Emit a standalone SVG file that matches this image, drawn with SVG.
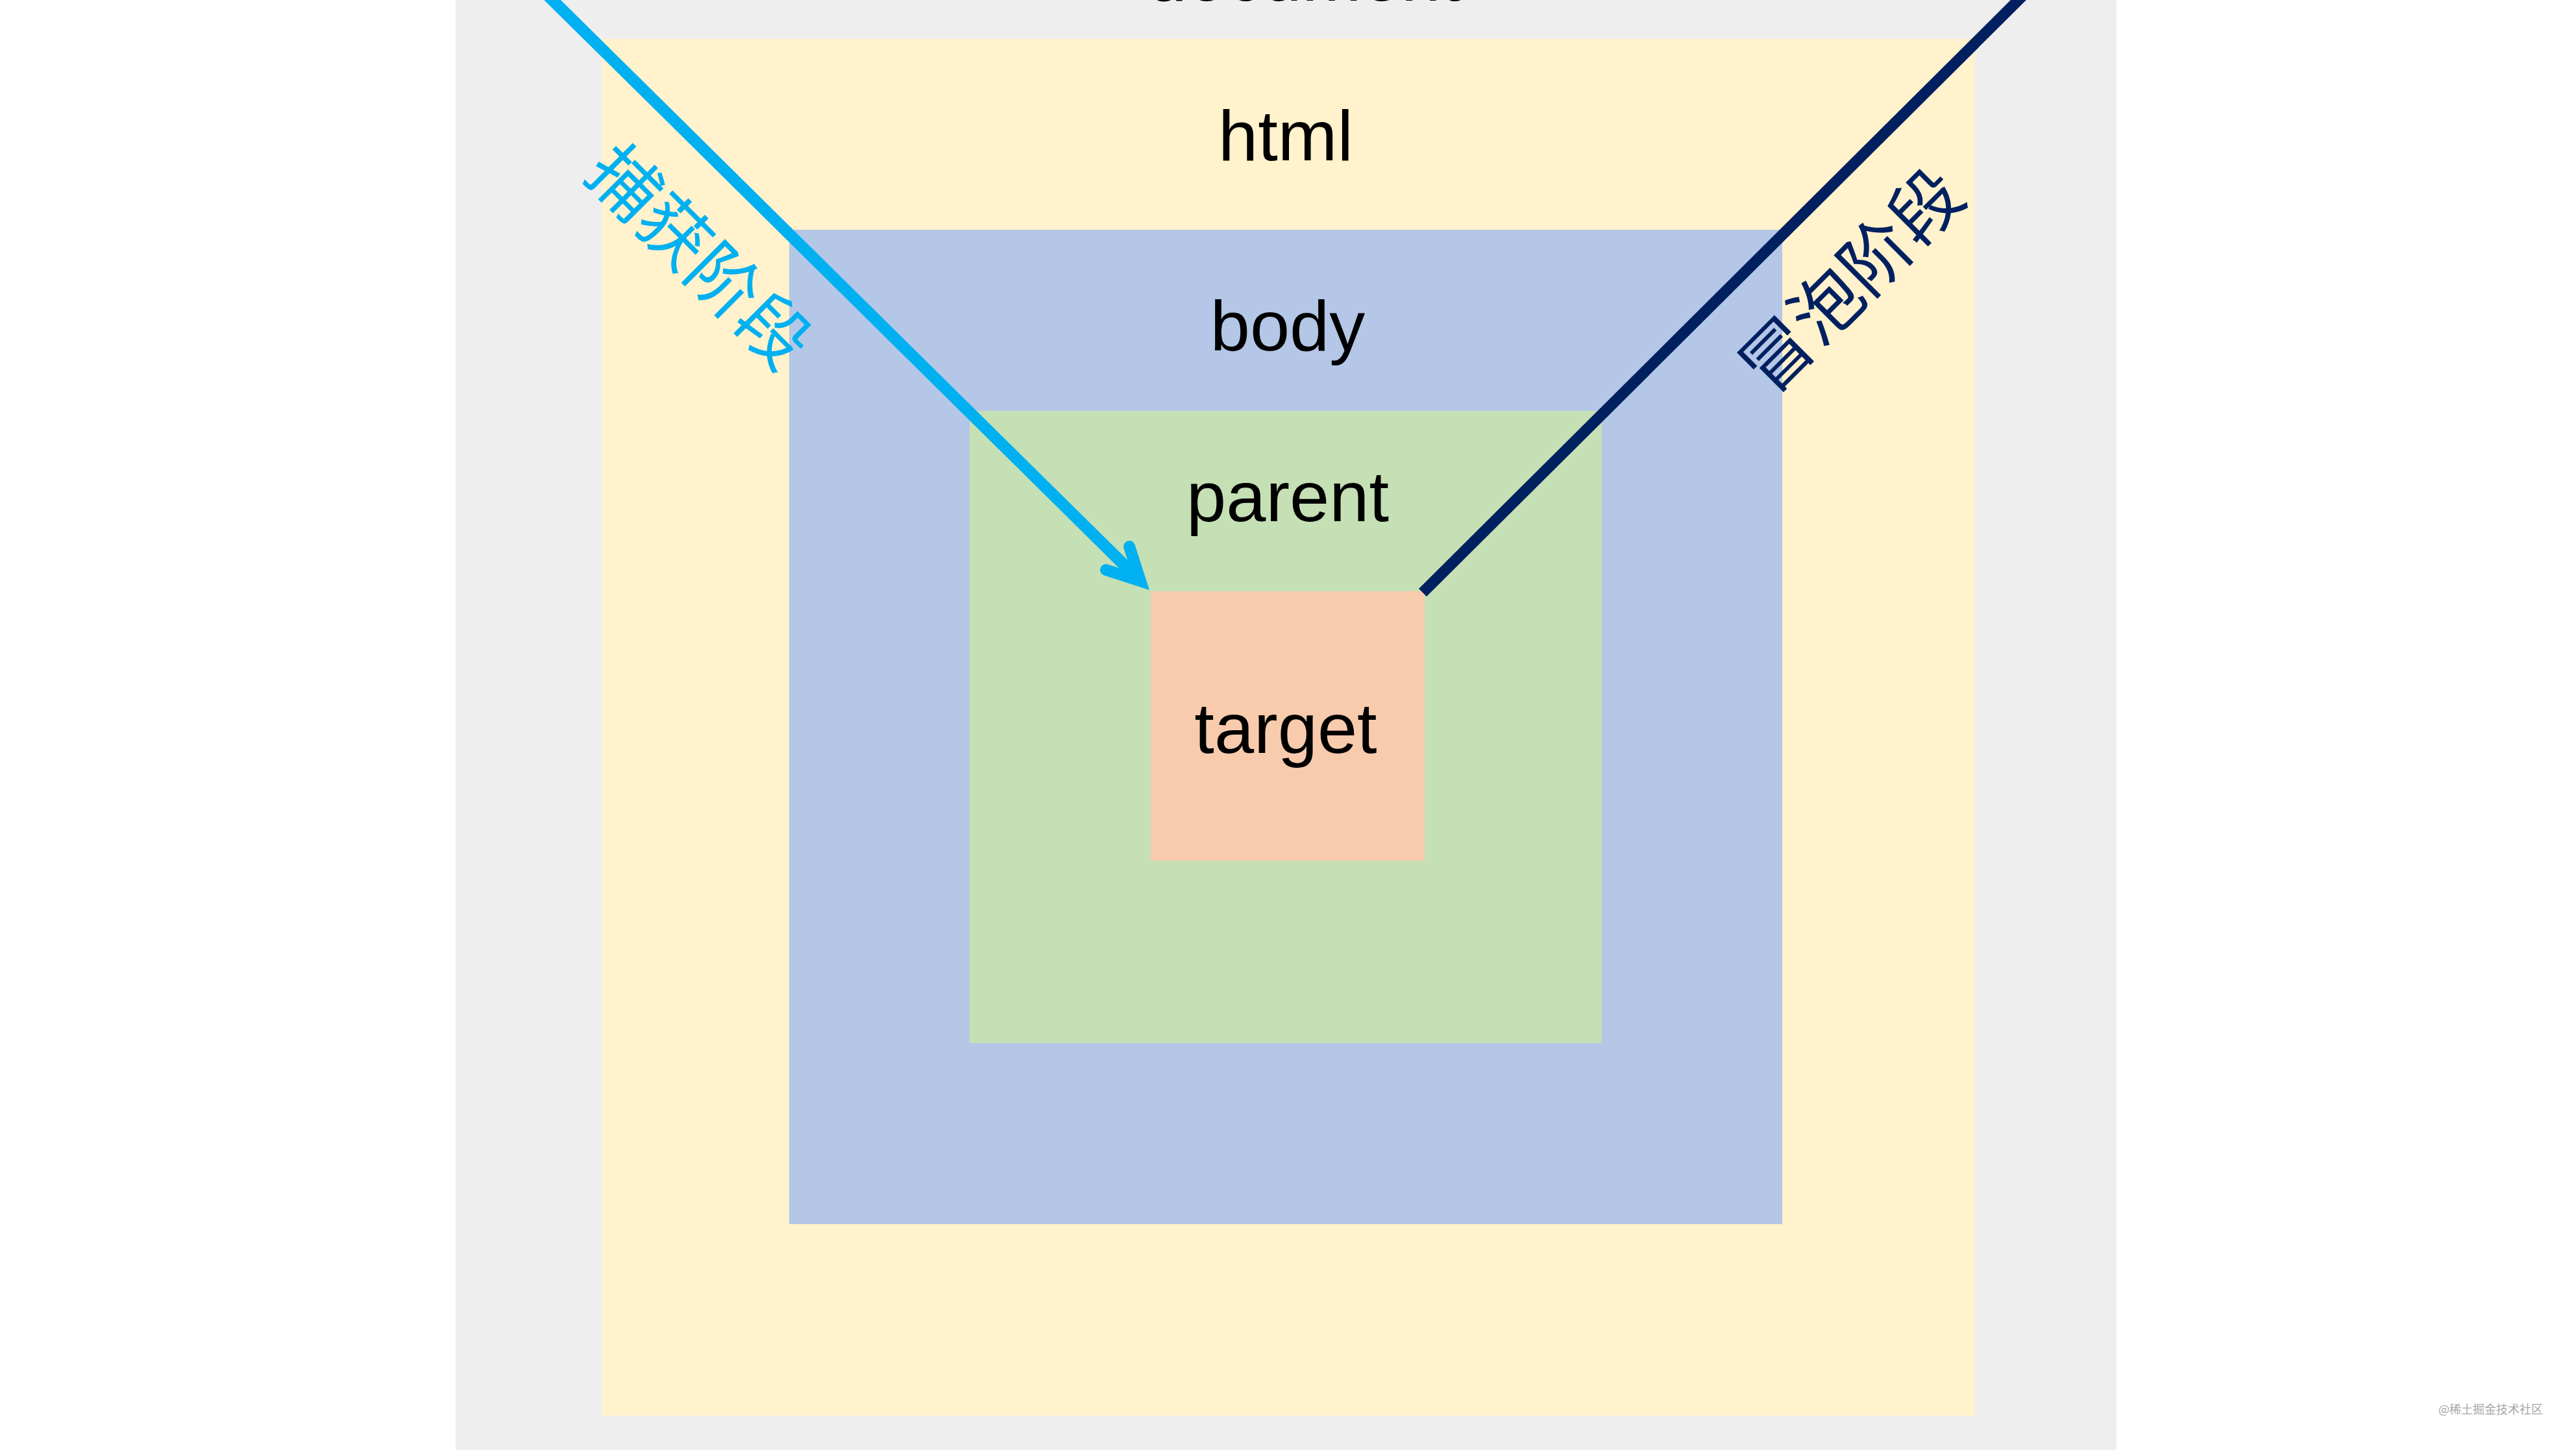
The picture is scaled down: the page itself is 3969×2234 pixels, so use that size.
<svg xmlns="http://www.w3.org/2000/svg" width="3969" height="2234" viewBox="0 0 3969 2234">
  <style>
    .lbl { font-family: "Liberation Sans", Arial, Helvetica, sans-serif; font-size: 110px; fill: #000000; text-anchor: middle; }
    .cjk { font-family: "Noto Sans CJK SC", "Noto Sans CJK JP", sans-serif; font-size: 108px; text-anchor: middle; dominant-baseline: central; }
    .wm { font-family: "Noto Sans CJK SC", sans-serif; font-size: 18px; fill: #a6a6a6; }
  </style>
  <rect x="0" y="0" width="3969" height="2234" fill="#ffffff"/>
  <g id="document">
    <rect x="702" y="0" width="2559" height="2234" fill="#eeeeee"/>
    <text class="lbl" x="2009" y="1">document</text>
  </g>
  <g id="html">
    <rect x="927" y="60" width="2116" height="2121" fill="#fff2cc"/>
    <text class="lbl" x="1981" y="247">html</text>
  </g>
  <g id="body">
    <rect x="1216" y="354" width="1530" height="1532" fill="#b4c7e7"/>
    <text class="lbl" x="1984" y="540">body</text>
  </g>
  <g id="parent">
    <rect x="1494" y="633" width="974" height="974" fill="#c5e0b4"/>
    <text class="lbl" x="1984" y="803">parent</text>
  </g>
  <g id="target">
    <rect x="1773" y="911" width="422" height="415" fill="#f8cbad"/>
    <text class="lbl" x="1981" y="1160">target</text>
  </g>
  <g id="connectors">
    <g id="capture">
      <line x1="845" y1="-6" x2="1757" y2="895" stroke="#00b0f0" stroke-width="18"/>
      <polyline points="1740,842 1757,895 1704,878" fill="none" stroke="#00b0f0" stroke-width="18" stroke-linecap="round" stroke-linejoin="miter" stroke-miterlimit="6"/>
      <text class="cjk" fill="#00b0f0" transform="translate(1083,390) rotate(45)">捕获阶段</text>
    </g>
    <g id="bubble">
      <line x1="3116" y1="-6" x2="2192" y2="913" stroke="#002060" stroke-width="17"/>
      <text class="cjk" fill="#002060" transform="translate(2847,427) rotate(-45)">冒泡阶段</text>
    </g>
  </g>
  <text class="wm" x="3757" y="2178">@稀土掘金技术社区</text>
</svg>
